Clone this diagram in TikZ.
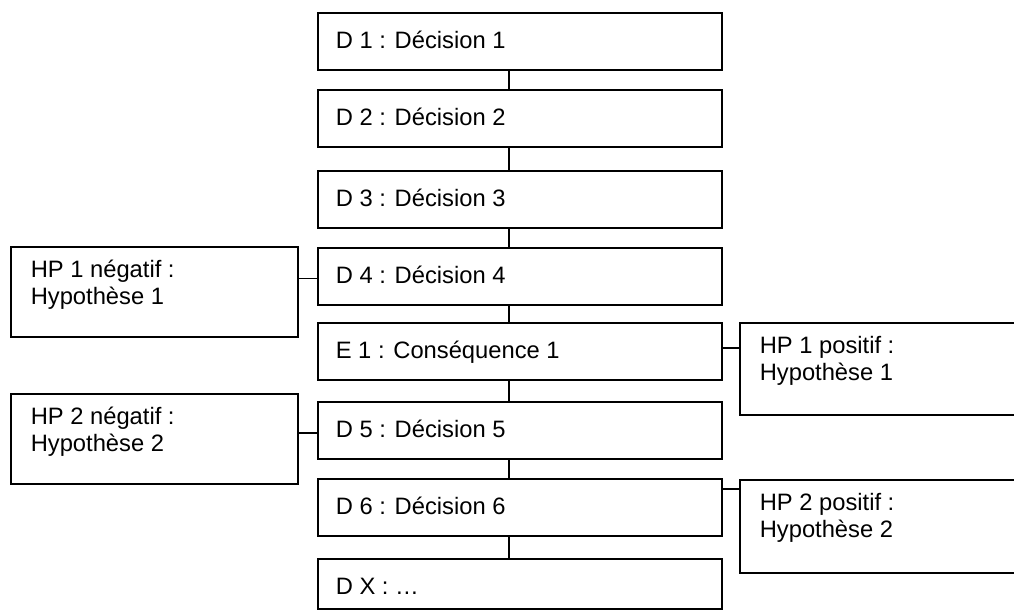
\documentclass[tikz,border=0pt]{standalone}
\usepackage{fontspec}
\setmainfont{Liberation Sans}
% width, height, left indent, top skip, text
\newcommand\bxt[5]{\parbox[c][#2][t]{#1}{\raggedright\leftskip=#3\relax\parindent=0pt\vspace*{#4}\rule{0pt}{16pt}#5}}
\newcommand\mtext[1]{\bxt{303pt}{42.75pt}{13.5pt}{10.5pt}{#1}}
\begin{document}
\begin{tikzpicture}[x=0.75pt,y=-0.75pt,
  box/.style={draw, line width=1.2pt, inner sep=0pt, anchor=north west,
    font=\fontsize{17.8}{20.25}\selectfont},
  link/.style={draw, line width=1.1pt}]
\clip (0,0) rectangle (1014,611);
\fill[white] (0,0) rectangle (1014,611);
% main column
\node[box] (d1) at (317,12)  {\mtext{D 1 : Décision 1}};
\node[box] (d2) at (317,89)  {\mtext{D 2 : Décision 2}};
\node[box] (d3) at (317,170) {\mtext{D 3 : Décision 3}};
\node[box] (d4) at (317,247) {\mtext{D 4 : Décision 4}};
\node[box] (e1) at (317,322) {\mtext{E 1 : Conséquence 1}};
\node[box] (d5) at (317,401) {\mtext{D 5 : Décision 5}};
\node[box] (d6) at (317,478) {\mtext{D 6 : Décision 6}};
\node[box] (dx) at (317,558) {\bxt{303pt}{37.5pt}{13.5pt}{10.5pt}{D X : …}};
% hypotheses
\node[box] (hp1n) at (10,246) {\bxt{215.25pt}{67.5pt}{15pt}{7.25pt}{HP 1 négatif :\\Hypothèse 1}};
\node[box] (hp2n) at (10,393) {\bxt{215.25pt}{67.5pt}{15pt}{7.25pt}{HP 2 négatif :\\Hypothèse 2}};
\node[box] (hp1p) at (739,322) {\bxt{225pt}{69pt}{15pt}{7.25pt}{HP 1 positif :\\Hypothèse 1}};
\node[box] (hp2p) at (739,479) {\bxt{225pt}{69.75pt}{15pt}{7.25pt}{HP 2 positif :\\Hypothèse 2}};
% spine
\coordinate (spine) at (509,0);
\path[link] (d1.south -| spine) -- (d2.north -| spine);
\path[link] (d2.south -| spine) -- (d3.north -| spine);
\path[link] (d3.south -| spine) -- (d4.north -| spine);
\path[link] (d4.south -| spine) -- (e1.north -| spine);
\path[link] (e1.south -| spine) -- (d5.north -| spine);
\path[link] (d5.south -| spine) -- (d6.north -| spine);
\path[link] (d6.south -| spine) -- (dx.north -| spine);
% side links
\path[link] ([yshift=-1.5pt]d4.west) -- ([yshift=-1.5pt]d4.west -| hp1n.east);
\path[link] ([yshift=2.5pt]e1.east) -- ([yshift=2.5pt]e1.east -| hp1p.west);
\path[link] ([yshift=-2pt]d5.west) -- ([yshift=-2pt]d5.west -| hp2n.east);
\path[link] ([yshift=-7.5pt]hp2p.north west) -- ([yshift=-7.5pt]hp2p.north west -| d6.east);
\end{tikzpicture}
\end{document}
